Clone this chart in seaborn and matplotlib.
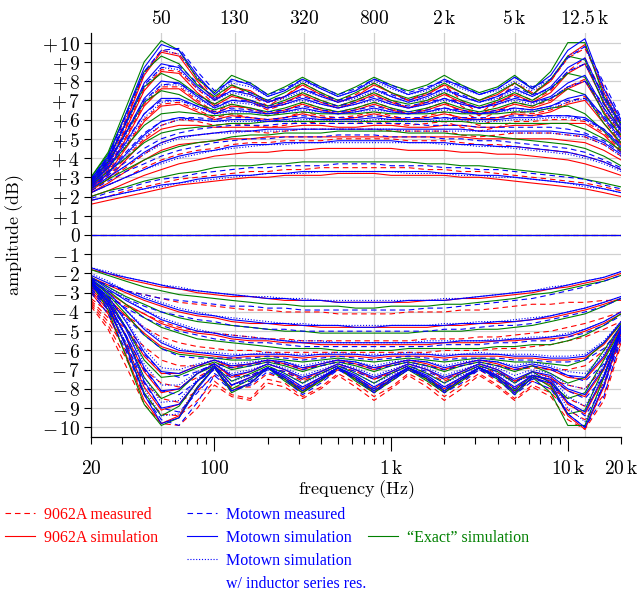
import matplotlib
matplotlib.use("Agg")
import matplotlib.pyplot as plt
import numpy as np
import pandas as pd
import seaborn as sns
from matplotlib.lines import Line2D
from matplotlib.ticker import FixedLocator, FixedFormatter, LogLocator, FuncFormatter, NullLocator

# ---------------------------------------------------------------------------
# Frequency grid (Hz) shared by every response curve
freq_hz = [20, 25, 31.5, 40, 50, 63, 80, 100, 125, 160, 200, 250, 315, 400, 500, 630,
           800, 1000, 1250, 1600, 2000, 2500, 3150, 4000, 5000, 6300, 8000, 10000, 12500,
           16000, 20000]

# Band centre frequencies (top axis) and axis tick labels
band_freqs = [50, 130, 320, 800, 2000, 5000, 12500]
band_labels = [r"$50$", r"$130$", r"$320$", r"$800$", r"$2\,\mathrm{k}$", r"$5\,\mathrm{k}$",
               r"$12.5\,\mathrm{k}$"]
x_ticks = [100, 1000, 10000]
x_tick_labels = [r"$100$", r"$1\,\mathrm{k}$", r"$10\,\mathrm{k}$"]
x_end_ticks = [20, 20000]
x_end_labels = [r"$20$", r"$20\,\mathrm{k}$"]
y_ticks = [-10, -9, -8, -7, -6, -5, -4, -3, -2, -1, 0, 1, 2, 3, 4, 5, 6, 7, 8, 9, 10]
y_tick_labels = [r"$-\,10$", r"$-\,9$", r"$-\,8$", r"$-\,7$", r"$-\,6$", r"$-\,5$",
                 r"$-\,4$", r"$-\,3$", r"$-\,2$", r"$-\,1$", r"$0$", r"$+\,1$", r"$+\,2$",
                 r"$+\,3$", r"$+\,4$", r"$+\,5$", r"$+\,6$", r"$+\,7$", r"$+\,8$",
                 r"$+\,9$", r"$+\,10$"]

# Flat response (all bands at 0 dB)
flat_freq = [20, 20000]
flat_db = [0.0, 0.0]

# ---------------------------------------------------------------------------
# Boost settings (dB), one row per setting, lowest to highest
meas_9062a_boost = [
    [1.8, 2.0, 2.3, 2.5, 2.7, 2.9, 3.0, 3.1, 3.2, 3.3, 3.3, 3.4, 3.4, 3.5, 3.5, 3.5, 3.5, 3.5, 3.5, 3.4, 3.4, 3.3, 3.3, 3.2, 3.1, 3.0, 2.9, 2.8, 2.7, 2.5, 2.3],
    [2.2, 2.6, 3.0, 3.5, 3.9, 4.2, 4.4, 4.5, 4.7, 4.8, 4.8, 4.9, 4.9, 4.9, 5.0, 5.0, 5.0, 5.0, 4.9, 4.9, 4.9, 4.8, 4.7, 4.7, 4.6, 4.5, 4.4, 4.3, 4.1, 3.8, 3.4],
    [2.3, 2.9, 3.5, 4.2, 4.8, 5.1, 5.2, 5.3, 5.4, 5.4, 5.3, 5.4, 5.5, 5.5, 5.5, 5.5, 5.5, 5.4, 5.4, 5.4, 5.4, 5.2, 5.1, 5.2, 5.3, 5.3, 5.3, 5.2, 5.1, 4.7, 4.1],
    [2.4, 3.1, 4.0, 5.0, 5.7, 6.0, 5.9, 5.7, 5.8, 5.7, 5.6, 5.7, 5.9, 5.8, 5.8, 5.8, 5.9, 5.8, 5.7, 5.8, 5.9, 5.6, 5.4, 5.6, 5.9, 5.9, 6.0, 6.0, 5.9, 5.3, 4.4],
    [2.5, 3.3, 4.6, 6.0, 6.8, 6.9, 6.5, 6.1, 6.3, 6.1, 5.9, 6.1, 6.4, 6.2, 6.1, 6.2, 6.4, 6.2, 6.0, 6.2, 6.4, 6.0, 5.7, 6.0, 6.4, 6.3, 6.5, 6.9, 7.2, 6.0, 4.8],
    [2.6, 3.5, 5.1, 6.8, 7.7, 7.7, 7.0, 6.4, 6.8, 6.5, 6.2, 6.4, 6.9, 6.6, 6.4, 6.6, 6.9, 6.6, 6.3, 6.6, 6.9, 6.4, 6.0, 6.4, 6.9, 6.7, 7.0, 7.7, 8.1, 6.6, 5.2],
    [2.7, 3.7, 5.6, 7.6, 8.6, 8.5, 7.6, 6.8, 7.3, 6.9, 6.5, 6.8, 7.4, 7.0, 6.7, 7.0, 7.4, 7.0, 6.6, 7.0, 7.4, 6.7, 6.2, 6.8, 7.4, 7.0, 7.5, 8.5, 9.2, 7.2, 5.5],
    [2.8, 3.9, 6.0, 8.4, 9.6, 9.4, 8.2, 7.1, 7.8, 7.3, 6.7, 7.2, 7.9, 7.4, 7.0, 7.3, 7.9, 7.4, 7.0, 7.4, 7.8, 7.0, 6.3, 7.0, 7.9, 7.4, 8.0, 9.2, 9.7, 7.7, 5.8],
]
sim_9062a_boost = [
    [1.6, 1.8, 2.0, 2.2, 2.4, 2.6, 2.7, 2.8, 2.9, 3.0, 3.0, 3.1, 3.1, 3.1, 3.2, 3.2, 3.2, 3.1, 3.1, 3.1, 3.1, 3.0, 3.0, 2.9, 2.8, 2.7, 2.6, 2.5, 2.4, 2.2, 2.0],
    [2.0, 2.3, 2.7, 3.1, 3.4, 3.7, 3.9, 4.1, 4.2, 4.3, 4.3, 4.4, 4.4, 4.5, 4.5, 4.5, 4.5, 4.5, 4.4, 4.4, 4.4, 4.3, 4.3, 4.2, 4.2, 4.1, 4.0, 3.9, 3.7, 3.4, 3.1],
    [2.2, 2.7, 3.3, 3.9, 4.4, 4.7, 4.8, 4.9, 5.0, 5.0, 5.1, 5.1, 5.1, 5.1, 5.1, 5.1, 5.1, 5.1, 5.1, 5.1, 5.1, 5.1, 5.0, 5.0, 5.0, 5.0, 5.0, 4.9, 4.8, 4.4, 3.9],
    [2.3, 2.9, 3.9, 4.9, 5.5, 5.7, 5.7, 5.6, 5.6, 5.6, 5.6, 5.6, 5.7, 5.7, 5.6, 5.6, 5.7, 5.7, 5.6, 5.6, 5.7, 5.7, 5.6, 5.6, 5.7, 5.7, 5.8, 5.8, 5.8, 5.2, 4.3],
    [2.4, 3.2, 4.5, 5.9, 6.7, 6.8, 6.4, 6.0, 6.2, 6.1, 6.0, 6.1, 6.3, 6.1, 6.0, 6.1, 6.3, 6.1, 6.0, 6.1, 6.3, 6.1, 6.0, 6.1, 6.3, 6.2, 6.4, 6.8, 7.0, 5.8, 4.7],
    [2.5, 3.4, 5.0, 6.7, 7.6, 7.6, 6.9, 6.3, 6.7, 6.6, 6.3, 6.5, 6.8, 6.5, 6.3, 6.5, 6.8, 6.5, 6.3, 6.5, 6.8, 6.5, 6.3, 6.5, 6.8, 6.6, 6.9, 7.6, 8.0, 6.4, 5.1],
    [2.6, 3.6, 5.5, 7.5, 8.5, 8.4, 7.4, 6.7, 7.2, 7.0, 6.6, 6.9, 7.3, 6.9, 6.6, 6.9, 7.3, 6.9, 6.6, 6.9, 7.3, 6.9, 6.6, 6.9, 7.3, 6.9, 7.4, 8.4, 8.9, 6.9, 5.4],
    [2.7, 3.8, 5.9, 8.3, 9.5, 9.3, 8.0, 7.0, 7.7, 7.5, 6.9, 7.2, 7.8, 7.3, 6.9, 7.2, 7.8, 7.4, 7.0, 7.3, 7.8, 7.4, 7.0, 7.3, 7.9, 7.3, 8.0, 9.3, 9.9, 7.4, 5.7],
]
meas_motown_boost = [
    [1.9, 2.2, 2.4, 2.7, 2.9, 3.0, 3.2, 3.3, 3.4, 3.5, 3.5, 3.6, 3.6, 3.6, 3.7, 3.7, 3.7, 3.6, 3.6, 3.6, 3.5, 3.5, 3.4, 3.4, 3.3, 3.2, 3.1, 3.0, 2.9, 2.6, 2.4],
    [2.3, 2.8, 3.3, 3.7, 4.1, 4.4, 4.6, 4.8, 4.9, 5.0, 5.0, 5.1, 5.1, 5.1, 5.2, 5.2, 5.2, 5.1, 5.1, 5.1, 5.0, 5.0, 4.9, 4.9, 4.8, 4.7, 4.6, 4.5, 4.3, 3.9, 3.5],
    [2.5, 3.1, 3.8, 4.5, 5.0, 5.3, 5.5, 5.6, 5.7, 5.7, 5.7, 5.8, 5.8, 5.8, 5.8, 5.8, 5.8, 5.8, 5.8, 5.7, 5.7, 5.7, 5.6, 5.6, 5.6, 5.6, 5.6, 5.5, 5.3, 4.9, 4.3],
    [2.6, 3.3, 4.3, 5.3, 5.9, 6.1, 6.1, 6.0, 6.1, 6.1, 6.0, 6.1, 6.2, 6.1, 6.1, 6.1, 6.2, 6.1, 6.1, 6.1, 6.1, 6.1, 6.1, 6.1, 6.2, 6.2, 6.2, 6.2, 6.0, 5.5, 4.7],
    [2.7, 3.6, 4.9, 6.3, 7.0, 7.0, 6.7, 6.4, 6.6, 6.5, 6.4, 6.5, 6.7, 6.5, 6.4, 6.5, 6.7, 6.5, 6.4, 6.5, 6.6, 6.5, 6.3, 6.5, 6.6, 6.5, 6.7, 7.0, 7.1, 6.2, 5.1],
    [2.8, 3.8, 5.4, 7.0, 7.8, 7.9, 7.3, 6.7, 7.0, 7.0, 6.7, 6.9, 7.2, 6.9, 6.7, 6.9, 7.2, 6.9, 6.7, 6.9, 7.1, 6.9, 6.6, 6.9, 7.2, 6.9, 7.1, 7.7, 8.0, 6.8, 5.5],
    [2.8, 4.0, 5.9, 7.8, 8.7, 8.8, 7.9, 7.1, 7.5, 7.4, 7.0, 7.2, 7.6, 7.3, 7.0, 7.2, 7.6, 7.3, 7.0, 7.3, 7.6, 7.3, 6.9, 7.2, 7.7, 7.3, 7.6, 8.5, 8.9, 7.3, 5.8],
    [2.9, 4.1, 6.2, 8.5, 9.6, 9.7, 8.5, 7.5, 8.0, 7.9, 7.3, 7.6, 8.1, 7.7, 7.3, 7.6, 8.1, 7.8, 7.4, 7.7, 8.0, 7.8, 7.3, 7.6, 8.2, 7.7, 8.1, 9.2, 9.8, 7.9, 6.1],
]
sim_motown_boost = [
    [1.8, 2.0, 2.2, 2.4, 2.6, 2.7, 2.9, 3.0, 3.1, 3.1, 3.2, 3.2, 3.3, 3.3, 3.3, 3.3, 3.3, 3.3, 3.3, 3.3, 3.2, 3.2, 3.1, 3.1, 3.0, 2.9, 2.8, 2.7, 2.6, 2.4, 2.2],
    [2.2, 2.6, 3.0, 3.4, 3.8, 4.1, 4.3, 4.4, 4.6, 4.7, 4.7, 4.8, 4.8, 4.8, 4.9, 4.9, 4.9, 4.9, 4.8, 4.8, 4.8, 4.7, 4.7, 4.6, 4.6, 4.5, 4.4, 4.3, 4.1, 3.8, 3.4],
    [2.4, 3.0, 3.6, 4.3, 4.8, 5.1, 5.2, 5.3, 5.4, 5.4, 5.5, 5.5, 5.5, 5.5, 5.5, 5.5, 5.5, 5.5, 5.5, 5.5, 5.5, 5.5, 5.4, 5.4, 5.4, 5.4, 5.4, 5.3, 5.2, 4.8, 4.2],
    [2.5, 3.2, 4.2, 5.2, 5.9, 6.1, 6.0, 5.9, 6.0, 6.0, 5.9, 6.0, 6.1, 6.0, 6.0, 6.0, 6.1, 6.0, 6.0, 6.0, 6.1, 6.0, 6.0, 6.0, 6.1, 6.1, 6.2, 6.2, 6.1, 5.5, 4.6],
    [2.6, 3.5, 4.8, 6.3, 7.1, 7.1, 6.7, 6.3, 6.5, 6.4, 6.3, 6.4, 6.6, 6.4, 6.3, 6.4, 6.6, 6.4, 6.3, 6.4, 6.6, 6.4, 6.3, 6.4, 6.6, 6.5, 6.7, 7.1, 7.3, 6.1, 5.0],
    [2.7, 3.7, 5.3, 7.1, 8.0, 7.9, 7.2, 6.6, 7.0, 6.9, 6.6, 6.8, 7.1, 6.8, 6.6, 6.8, 7.1, 6.8, 6.6, 6.8, 7.1, 6.8, 6.6, 6.8, 7.1, 6.9, 7.2, 7.9, 8.3, 6.6, 5.4],
    [2.8, 3.9, 5.8, 7.9, 8.9, 8.7, 7.7, 7.0, 7.5, 7.3, 6.9, 7.2, 7.6, 7.2, 6.9, 7.2, 7.6, 7.2, 6.9, 7.2, 7.6, 7.2, 6.9, 7.2, 7.6, 7.2, 7.7, 8.7, 9.2, 7.1, 5.7],
    [2.9, 4.1, 6.3, 8.7, 9.9, 9.6, 8.3, 7.3, 8.1, 7.8, 7.2, 7.5, 8.1, 7.6, 7.2, 7.5, 8.1, 7.7, 7.3, 7.6, 8.1, 7.7, 7.3, 7.6, 8.2, 7.6, 8.3, 9.6, 10.2, 7.6, 6.0],
]
sim_motown_ind_boost = [
    [1.8, 2.0, 2.2, 2.4, 2.5, 2.7, 2.8, 2.9, 3.0, 3.1, 3.2, 3.2, 3.2, 3.3, 3.3, 3.3, 3.3, 3.3, 3.2, 3.2, 3.2, 3.1, 3.1, 3.0, 3.0, 2.9, 2.8, 2.7, 2.5, 2.4, 2.2],
    [2.2, 2.6, 3.0, 3.4, 3.7, 4.0, 4.2, 4.4, 4.5, 4.6, 4.7, 4.7, 4.8, 4.8, 4.8, 4.8, 4.8, 4.8, 4.8, 4.8, 4.7, 4.7, 4.6, 4.6, 4.5, 4.4, 4.3, 4.2, 4.0, 3.7, 3.3],
    [2.4, 3.0, 3.6, 4.2, 4.7, 5.0, 5.2, 5.3, 5.3, 5.4, 5.4, 5.4, 5.5, 5.5, 5.5, 5.5, 5.5, 5.5, 5.4, 5.4, 5.4, 5.4, 5.4, 5.4, 5.3, 5.3, 5.3, 5.2, 5.1, 4.7, 4.1],
    [2.5, 3.2, 4.1, 5.1, 5.7, 6.0, 6.0, 5.9, 5.9, 5.9, 5.9, 5.9, 6.0, 6.0, 5.9, 5.9, 6.0, 6.0, 5.9, 5.9, 6.0, 6.0, 5.9, 5.9, 6.0, 6.0, 6.1, 6.1, 6.0, 5.4, 4.5],
    [2.6, 3.4, 4.7, 6.1, 6.9, 7.0, 6.6, 6.3, 6.4, 6.4, 6.3, 6.4, 6.5, 6.4, 6.3, 6.4, 6.5, 6.4, 6.3, 6.4, 6.5, 6.4, 6.3, 6.4, 6.5, 6.4, 6.6, 6.9, 7.1, 6.0, 4.9],
    [2.7, 3.6, 5.2, 6.9, 7.8, 7.8, 7.1, 6.6, 6.9, 6.8, 6.6, 6.8, 7.0, 6.8, 6.6, 6.8, 7.0, 6.8, 6.6, 6.8, 7.0, 6.8, 6.6, 6.8, 7.0, 6.8, 7.1, 7.7, 8.0, 6.5, 5.3],
    [2.8, 3.8, 5.7, 7.7, 8.7, 8.6, 7.6, 7.0, 7.4, 7.2, 6.9, 7.1, 7.5, 7.2, 6.9, 7.1, 7.5, 7.2, 6.9, 7.1, 7.5, 7.2, 6.9, 7.1, 7.5, 7.2, 7.6, 8.5, 8.9, 7.0, 5.6],
    [2.9, 4.0, 6.1, 8.4, 9.6, 9.4, 8.2, 7.3, 7.9, 7.7, 7.2, 7.5, 8.0, 7.6, 7.2, 7.5, 8.0, 7.6, 7.3, 7.5, 8.0, 7.6, 7.3, 7.5, 8.0, 7.5, 8.1, 9.3, 9.8, 7.5, 5.9],
]
sim_exact_boost = [
    [2.0, 2.3, 2.5, 2.8, 3.0, 3.2, 3.3, 3.5, 3.6, 3.6, 3.7, 3.7, 3.8, 3.8, 3.8, 3.8, 3.8, 3.8, 3.8, 3.7, 3.7, 3.6, 3.6, 3.5, 3.4, 3.3, 3.2, 3.1, 2.9, 2.7, 2.5],
    [2.4, 2.9, 3.4, 3.9, 4.3, 4.6, 4.8, 4.9, 5.1, 5.2, 5.2, 5.3, 5.3, 5.3, 5.4, 5.4, 5.4, 5.4, 5.3, 5.3, 5.3, 5.2, 5.2, 5.1, 5.0, 4.9, 4.8, 4.7, 4.5, 4.1, 3.6],
    [2.6, 3.3, 4.0, 4.8, 5.3, 5.5, 5.6, 5.7, 5.8, 5.8, 5.9, 5.9, 5.9, 5.9, 5.9, 5.9, 5.9, 5.9, 5.9, 5.9, 5.9, 5.9, 5.8, 5.8, 5.8, 5.8, 5.8, 5.8, 5.5, 5.0, 4.4],
    [2.7, 3.5, 4.6, 5.7, 6.3, 6.4, 6.3, 6.2, 6.3, 6.3, 6.2, 6.3, 6.4, 6.3, 6.3, 6.3, 6.4, 6.3, 6.3, 6.3, 6.4, 6.3, 6.3, 6.3, 6.4, 6.4, 6.6, 6.7, 6.3, 5.4, 4.5],
    [2.8, 3.8, 5.3, 6.9, 7.5, 7.3, 6.8, 6.5, 6.8, 6.6, 6.4, 6.6, 6.9, 6.6, 6.4, 6.6, 6.9, 6.6, 6.4, 6.6, 6.9, 6.6, 6.4, 6.6, 6.9, 6.7, 7.1, 7.6, 7.3, 5.8, 4.8],
    [2.9, 4.0, 5.8, 7.7, 8.4, 8.0, 7.3, 6.8, 7.3, 7.0, 6.7, 7.0, 7.4, 7.0, 6.7, 7.0, 7.4, 7.0, 6.8, 7.0, 7.4, 7.0, 6.7, 7.0, 7.4, 7.0, 7.6, 8.4, 8.2, 6.3, 5.2],
    [3.0, 4.2, 6.3, 8.5, 9.3, 8.9, 7.8, 7.2, 7.8, 7.4, 7.0, 7.4, 7.9, 7.4, 7.0, 7.4, 7.9, 7.4, 7.1, 7.4, 7.9, 7.4, 7.0, 7.4, 7.9, 7.3, 8.1, 9.3, 9.1, 6.8, 5.5],
    [3.0, 4.3, 6.6, 9.0, 10.1, 9.6, 8.1, 7.4, 8.3, 7.9, 7.3, 7.7, 8.2, 7.7, 7.3, 7.7, 8.2, 7.8, 7.5, 7.8, 8.3, 7.8, 7.4, 7.7, 8.3, 7.6, 8.5, 10.0, 10.0, 7.2, 5.8],
]

# ---------------------------------------------------------------------------
# Cut settings (dB), one row per setting, shallowest to deepest
meas_9062a_cut = [
    [-2.3, -2.6, -2.9, -3.1, -3.3, -3.5, -3.6, -3.7, -3.8, -3.9, -3.9, -4.0, -4.0, -4.0, -4.1, -4.1, -4.1, -4.1, -4.0, -4.0, -4.0, -3.9, -3.9, -3.8, -3.7, -3.6, -3.6, -3.5, -3.5, -3.4, -3.4],
    [-2.7, -3.2, -3.7, -4.1, -4.5, -4.8, -5.0, -5.1, -5.2, -5.3, -5.4, -5.4, -5.5, -5.5, -5.5, -5.5, -5.5, -5.5, -5.5, -5.4, -5.4, -5.4, -5.3, -5.3, -5.2, -5.1, -5.0, -4.8, -4.6, -4.3, -4.0],
    [-3.0, -3.6, -4.2, -4.8, -5.3, -5.6, -5.8, -5.9, -6.0, -6.0, -6.1, -6.1, -6.1, -6.1, -6.1, -6.1, -6.1, -6.1, -6.1, -6.1, -6.0, -6.0, -6.0, -5.9, -5.9, -5.8, -5.7, -5.5, -5.3, -4.9, -4.5],
    [-3.3, -4.0, -4.9, -5.8, -6.5, -6.8, -6.8, -6.7, -6.8, -6.7, -6.6, -6.7, -6.9, -6.8, -6.6, -6.7, -6.9, -6.8, -6.6, -6.8, -7.0, -6.8, -6.6, -6.8, -7.0, -6.9, -7.0, -7.0, -6.8, -6.0, -4.9],
    [-3.4, -4.3, -5.6, -7.0, -7.7, -7.9, -7.4, -6.9, -7.3, -7.3, -6.9, -7.1, -7.6, -7.2, -6.8, -7.1, -7.5, -7.2, -6.8, -7.2, -7.6, -7.2, -6.8, -7.2, -7.6, -7.3, -7.5, -7.8, -8.0, -6.9, -5.2],
    [-3.5, -4.5, -6.0, -7.7, -8.5, -8.7, -8.1, -7.3, -7.9, -7.9, -7.2, -7.5, -8.1, -7.6, -7.0, -7.5, -8.1, -7.6, -7.0, -7.5, -8.1, -7.6, -7.0, -7.6, -8.1, -7.6, -8.0, -8.5, -8.9, -7.7, -5.4],
    [-3.6, -4.7, -6.4, -8.3, -9.3, -9.4, -8.6, -7.6, -8.3, -8.5, -7.5, -7.7, -8.4, -7.9, -7.2, -7.7, -8.4, -7.9, -7.2, -7.7, -8.4, -7.8, -7.2, -7.8, -8.5, -7.8, -8.2, -9.1, -9.6, -8.3, -5.6],
    [-3.7, -4.9, -6.8, -8.8, -9.8, -9.9, -9.0, -7.8, -8.4, -8.6, -7.7, -7.9, -8.5, -8.0, -7.3, -7.9, -8.6, -8.0, -7.3, -7.9, -8.6, -8.0, -7.3, -7.9, -8.6, -7.9, -8.4, -9.6, -10.1, -8.6, -5.7],
]
sim_9062a_cut = [
    [-1.8, -2.0, -2.3, -2.5, -2.7, -2.8, -3.0, -3.1, -3.2, -3.2, -3.3, -3.4, -3.4, -3.4, -3.5, -3.5, -3.5, -3.5, -3.5, -3.4, -3.4, -3.3, -3.3, -3.2, -3.1, -3.0, -2.8, -2.7, -2.5, -2.3, -2.0],
    [-2.2, -2.6, -3.0, -3.4, -3.7, -4.0, -4.2, -4.3, -4.5, -4.6, -4.6, -4.7, -4.7, -4.8, -4.8, -4.8, -4.8, -4.8, -4.8, -4.8, -4.7, -4.7, -4.6, -4.6, -4.5, -4.4, -4.3, -4.1, -3.9, -3.6, -3.3],
    [-2.4, -3.0, -3.6, -4.1, -4.6, -4.9, -5.1, -5.2, -5.4, -5.5, -5.5, -5.6, -5.6, -5.7, -5.7, -5.7, -5.7, -5.7, -5.7, -5.7, -5.6, -5.6, -5.6, -5.5, -5.5, -5.4, -5.4, -5.3, -5.0, -4.6, -4.1],
    [-2.6, -3.3, -4.2, -5.1, -5.8, -6.1, -6.2, -6.3, -6.4, -6.3, -6.3, -6.3, -6.4, -6.3, -6.3, -6.3, -6.4, -6.3, -6.3, -6.3, -6.4, -6.3, -6.3, -6.3, -6.4, -6.4, -6.5, -6.5, -6.4, -5.7, -4.6],
    [-2.7, -3.5, -4.8, -6.3, -7.2, -7.2, -6.8, -6.5, -6.9, -6.7, -6.5, -6.7, -7.0, -6.7, -6.5, -6.7, -7.0, -6.7, -6.5, -6.7, -7.0, -6.7, -6.5, -6.7, -7.0, -6.8, -7.0, -7.4, -7.5, -6.4, -4.8],
    [-2.8, -3.7, -5.2, -7.1, -8.2, -8.0, -7.2, -6.7, -7.4, -7.1, -6.7, -7.0, -7.5, -7.1, -6.7, -7.0, -7.5, -7.1, -6.7, -7.0, -7.5, -7.1, -6.7, -7.0, -7.6, -7.1, -7.4, -8.1, -8.4, -7.0, -4.9],
    [-2.9, -3.9, -5.7, -7.9, -9.1, -8.8, -7.6, -6.8, -7.8, -7.4, -6.9, -7.4, -8.0, -7.4, -6.9, -7.4, -8.0, -7.4, -6.9, -7.4, -8.0, -7.4, -6.9, -7.3, -8.0, -7.3, -7.6, -8.8, -9.3, -7.4, -5.0],
    [-3.0, -4.1, -6.2, -8.6, -9.8, -9.4, -7.9, -6.9, -8.1, -7.7, -6.9, -7.5, -8.2, -7.5, -6.9, -7.5, -8.2, -7.5, -6.9, -7.5, -8.2, -7.5, -6.9, -7.4, -8.2, -7.4, -7.8, -9.4, -10.1, -7.9, -5.1],
]
meas_motown_cut = [
    [-2.3, -2.6, -2.9, -3.1, -3.3, -3.4, -3.5, -3.6, -3.7, -3.7, -3.8, -3.8, -3.9, -3.9, -3.9, -3.9, -3.9, -3.9, -3.9, -3.8, -3.8, -3.7, -3.6, -3.5, -3.4, -3.3, -3.1, -2.9, -2.7, -2.4, -2.1],
    [-2.4, -2.9, -3.3, -3.7, -4.0, -4.2, -4.4, -4.5, -4.7, -4.8, -4.9, -4.9, -5.0, -5.0, -5.0, -5.0, -5.0, -5.0, -5.0, -5.0, -4.9, -4.9, -4.8, -4.7, -4.7, -4.6, -4.4, -4.2, -4.0, -3.7, -3.3],
    [-2.6, -3.2, -3.8, -4.3, -4.7, -5.0, -5.2, -5.4, -5.5, -5.6, -5.6, -5.7, -5.8, -5.8, -5.8, -5.8, -5.8, -5.8, -5.8, -5.8, -5.7, -5.7, -5.7, -5.6, -5.6, -5.5, -5.5, -5.3, -5.1, -4.7, -4.2],
    [-2.7, -3.4, -4.3, -5.2, -5.9, -6.3, -6.4, -6.4, -6.4, -6.4, -6.3, -6.4, -6.5, -6.4, -6.3, -6.4, -6.5, -6.4, -6.3, -6.4, -6.5, -6.4, -6.4, -6.4, -6.5, -6.5, -6.6, -6.6, -6.5, -5.9, -4.8],
    [-2.8, -3.6, -4.8, -6.2, -7.1, -7.4, -7.1, -6.7, -6.9, -6.8, -6.6, -6.7, -7.0, -6.8, -6.6, -6.7, -7.0, -6.8, -6.6, -6.8, -7.0, -6.8, -6.6, -6.8, -7.0, -6.8, -7.0, -7.3, -7.6, -6.7, -5.0],
    [-2.8, -3.8, -5.2, -7.0, -8.1, -8.3, -7.6, -7.0, -7.4, -7.3, -6.9, -7.1, -7.5, -7.2, -6.8, -7.1, -7.5, -7.2, -6.8, -7.1, -7.5, -7.2, -6.8, -7.1, -7.6, -7.3, -7.5, -8.1, -8.5, -7.4, -5.2],
    [-2.9, -3.9, -5.6, -7.7, -9.0, -9.2, -8.2, -7.2, -7.8, -7.6, -7.0, -7.4, -8.0, -7.5, -7.0, -7.4, -8.0, -7.5, -7.0, -7.4, -8.0, -7.5, -7.0, -7.4, -8.0, -7.5, -7.7, -8.7, -9.4, -7.9, -5.3],
    [-3.0, -4.1, -6.0, -8.3, -9.6, -9.9, -8.7, -7.3, -8.1, -7.8, -7.1, -7.5, -8.3, -7.7, -7.0, -7.5, -8.2, -7.6, -7.0, -7.5, -8.2, -7.7, -7.0, -7.5, -8.3, -7.6, -8.0, -9.3, -10.0, -8.4, -5.4],
]
sim_motown_cut = [
    [-1.7, -2.0, -2.2, -2.4, -2.6, -2.8, -2.9, -3.0, -3.1, -3.2, -3.3, -3.3, -3.4, -3.4, -3.5, -3.5, -3.5, -3.5, -3.4, -3.4, -3.4, -3.3, -3.2, -3.1, -3.0, -2.9, -2.8, -2.6, -2.4, -2.2, -1.9],
    [-2.1, -2.5, -2.9, -3.3, -3.6, -3.9, -4.1, -4.2, -4.4, -4.5, -4.6, -4.6, -4.7, -4.7, -4.7, -4.8, -4.8, -4.7, -4.7, -4.7, -4.7, -4.6, -4.6, -4.5, -4.5, -4.4, -4.2, -4.0, -3.8, -3.5, -3.2],
    [-2.2, -2.8, -3.4, -3.9, -4.4, -4.7, -5.0, -5.1, -5.3, -5.4, -5.4, -5.5, -5.6, -5.6, -5.6, -5.6, -5.6, -5.6, -5.6, -5.6, -5.6, -5.5, -5.5, -5.5, -5.4, -5.4, -5.3, -5.2, -4.9, -4.5, -4.0],
    [-2.3, -3.0, -3.9, -4.9, -5.6, -6.0, -6.1, -6.2, -6.3, -6.2, -6.2, -6.2, -6.3, -6.2, -6.2, -6.2, -6.3, -6.2, -6.2, -6.2, -6.3, -6.2, -6.2, -6.2, -6.3, -6.3, -6.4, -6.4, -6.3, -5.6, -4.5],
    [-2.4, -3.2, -4.5, -6.1, -7.1, -7.2, -6.8, -6.5, -6.8, -6.7, -6.5, -6.6, -6.9, -6.7, -6.5, -6.6, -6.9, -6.7, -6.5, -6.6, -6.9, -6.7, -6.5, -6.6, -6.9, -6.7, -6.9, -7.3, -7.4, -6.3, -4.7],
    [-2.4, -3.4, -4.9, -6.9, -8.1, -8.0, -7.2, -6.7, -7.3, -7.1, -6.7, -7.0, -7.4, -7.1, -6.7, -7.0, -7.4, -7.1, -6.7, -7.0, -7.4, -7.1, -6.7, -7.0, -7.5, -7.1, -7.3, -8.0, -8.3, -6.9, -4.9],
    [-2.5, -3.5, -5.3, -7.6, -9.0, -8.8, -7.6, -6.8, -7.8, -7.4, -6.9, -7.3, -7.9, -7.4, -6.9, -7.3, -7.9, -7.4, -6.9, -7.3, -7.9, -7.4, -6.9, -7.3, -7.9, -7.3, -7.5, -8.7, -9.2, -7.3, -4.9],
    [-2.5, -3.7, -5.8, -8.3, -9.8, -9.5, -8.0, -6.9, -8.1, -7.7, -6.9, -7.4, -8.1, -7.5, -6.9, -7.4, -8.1, -7.5, -6.9, -7.4, -8.1, -7.5, -6.9, -7.4, -8.2, -7.4, -7.7, -9.3, -10.0, -7.8, -5.0],
]
sim_motown_ind_cut = [
    [-1.7, -1.9, -2.2, -2.4, -2.6, -2.7, -2.9, -3.0, -3.1, -3.2, -3.2, -3.3, -3.3, -3.4, -3.4, -3.4, -3.4, -3.4, -3.4, -3.4, -3.3, -3.3, -3.2, -3.1, -3.0, -2.9, -2.7, -2.6, -2.4, -2.2, -1.9],
    [-2.0, -2.4, -2.9, -3.2, -3.5, -3.8, -4.0, -4.2, -4.3, -4.4, -4.5, -4.6, -4.6, -4.7, -4.7, -4.7, -4.7, -4.7, -4.7, -4.7, -4.6, -4.6, -4.5, -4.5, -4.4, -4.3, -4.2, -4.0, -3.8, -3.5, -3.2],
    [-2.2, -2.7, -3.3, -3.9, -4.3, -4.6, -4.9, -5.1, -5.2, -5.3, -5.4, -5.5, -5.5, -5.5, -5.6, -5.6, -5.6, -5.6, -5.6, -5.5, -5.5, -5.5, -5.5, -5.4, -5.4, -5.3, -5.3, -5.1, -4.9, -4.5, -4.0],
    [-2.3, -3.0, -3.9, -4.8, -5.5, -5.9, -6.1, -6.1, -6.2, -6.2, -6.1, -6.2, -6.2, -6.2, -6.1, -6.2, -6.2, -6.2, -6.1, -6.2, -6.2, -6.2, -6.1, -6.2, -6.2, -6.2, -6.3, -6.3, -6.2, -5.5, -4.5],
    [-2.4, -3.2, -4.4, -5.9, -6.9, -7.0, -6.7, -6.5, -6.7, -6.6, -6.5, -6.6, -6.8, -6.6, -6.5, -6.6, -6.8, -6.6, -6.5, -6.6, -6.8, -6.6, -6.5, -6.6, -6.8, -6.6, -6.8, -7.1, -7.2, -6.2, -4.7],
    [-2.4, -3.3, -4.8, -6.7, -7.8, -7.8, -7.1, -6.7, -7.2, -7.0, -6.7, -6.9, -7.3, -7.0, -6.7, -6.9, -7.3, -7.0, -6.7, -6.9, -7.3, -7.0, -6.7, -6.9, -7.3, -7.0, -7.2, -7.8, -8.0, -6.8, -4.9],
    [-2.5, -3.5, -5.2, -7.4, -8.7, -8.6, -7.5, -6.8, -7.6, -7.3, -6.9, -7.2, -7.7, -7.3, -6.9, -7.2, -7.7, -7.3, -6.9, -7.2, -7.7, -7.3, -6.9, -7.2, -7.7, -7.2, -7.4, -8.4, -8.9, -7.2, -4.9],
    [-2.5, -3.6, -5.6, -8.0, -9.4, -9.3, -7.9, -6.9, -7.8, -7.5, -6.9, -7.3, -7.9, -7.4, -6.9, -7.3, -7.9, -7.4, -6.9, -7.3, -7.9, -7.4, -6.9, -7.3, -8.0, -7.3, -7.6, -9.0, -9.7, -7.7, -5.0],
]
sim_exact_cut = [
    [-1.8, -2.1, -2.4, -2.7, -2.9, -3.1, -3.2, -3.3, -3.4, -3.5, -3.6, -3.6, -3.7, -3.7, -3.7, -3.8, -3.8, -3.7, -3.7, -3.7, -3.6, -3.6, -3.5, -3.4, -3.3, -3.1, -3.0, -2.8, -2.6, -2.4, -2.1],
    [-2.2, -2.7, -3.2, -3.6, -4.0, -4.3, -4.5, -4.6, -4.7, -4.8, -4.9, -5.0, -5.0, -5.1, -5.1, -5.1, -5.1, -5.1, -5.1, -5.0, -5.0, -5.0, -4.9, -4.9, -4.8, -4.7, -4.5, -4.3, -4.1, -3.7, -3.3],
    [-2.3, -2.9, -3.6, -4.3, -4.8, -5.1, -5.4, -5.5, -5.6, -5.7, -5.8, -5.9, -5.9, -5.9, -6.0, -6.0, -6.0, -6.0, -5.9, -5.9, -5.9, -5.9, -5.9, -5.8, -5.8, -5.7, -5.7, -5.5, -5.2, -4.7, -4.1],
    [-2.3, -3.1, -4.1, -5.2, -5.9, -6.2, -6.3, -6.4, -6.5, -6.5, -6.4, -6.5, -6.6, -6.5, -6.4, -6.5, -6.6, -6.5, -6.4, -6.5, -6.6, -6.5, -6.4, -6.5, -6.6, -6.6, -6.7, -6.8, -6.5, -5.6, -4.6],
    [-2.4, -3.3, -4.8, -6.5, -7.4, -7.3, -6.9, -6.6, -7.0, -6.8, -6.6, -6.8, -7.1, -6.8, -6.6, -6.8, -7.1, -6.8, -6.6, -6.8, -7.1, -6.8, -6.6, -6.8, -7.1, -6.8, -7.2, -7.7, -7.4, -6.0, -4.7],
    [-2.4, -3.5, -5.3, -7.4, -8.5, -8.1, -7.2, -6.8, -7.6, -7.2, -6.8, -7.2, -7.7, -7.2, -6.8, -7.2, -7.7, -7.2, -6.8, -7.2, -7.7, -7.2, -6.8, -7.1, -7.7, -7.1, -7.7, -8.5, -8.2, -6.5, -4.9],
    [-2.4, -3.7, -5.8, -8.2, -9.4, -8.9, -7.6, -6.9, -8.0, -7.5, -6.9, -7.5, -8.1, -7.5, -6.9, -7.5, -8.1, -7.5, -6.9, -7.5, -8.1, -7.5, -6.9, -7.4, -8.1, -7.3, -7.9, -9.3, -9.1, -6.9, -4.9],
    [-2.5, -3.9, -6.3, -8.8, -9.9, -9.5, -7.9, -6.9, -8.2, -7.7, -6.9, -7.6, -8.2, -7.6, -6.9, -7.6, -8.2, -7.6, -7.0, -7.6, -8.2, -7.6, -6.9, -7.5, -8.3, -7.4, -8.2, -9.9, -9.9, -7.4, -5.0],
]

# ---------------------------------------------------------------------------
# Series styling (draw order: later entries on top)
series_keys = ["9062A measured", "9062A simulation", "Exact simulation",
               "Motown simulation", "Motown simulation (inductor res.)", "Motown measured"]
series_data = {
    "9062A measured": (meas_9062a_boost, meas_9062a_cut),
    "9062A simulation": (sim_9062a_boost, sim_9062a_cut),
    "Exact simulation": (sim_exact_boost, sim_exact_cut),
    "Motown simulation": (sim_motown_boost, sim_motown_cut),
    "Motown simulation (inductor res.)": (sim_motown_ind_boost, sim_motown_ind_cut),
    "Motown measured": (meas_motown_boost, meas_motown_cut),
}
RED, BLUE, GREEN = "#ff0000", "#0000ff", "#008000"
palette = {
    "9062A measured": RED,
    "9062A simulation": RED,
    "Exact simulation": GREEN,
    "Motown simulation": BLUE,
    "Motown simulation (inductor res.)": BLUE,
    "Motown measured": BLUE,
}
dash_styles = {
    "9062A measured": (5, 3.5),
    "9062A simulation": "",
    "Exact simulation": "",
    "Motown simulation": "",
    "Motown simulation (inductor res.)": (1, 1.6),
    "Motown measured": (5, 3.5),
}

rows = []
for key in series_keys:
    boost, cut = series_data[key]
    for side, block in (("boost", boost), ("cut", cut)):
        for k, vals in enumerate(block):
            if len(vals) != len(freq_hz):
                raise ValueError(f"{key} {side} row {k}: {len(vals)} values")
            for f, v in zip(freq_hz, vals):
                rows.append((f, v, key, f"{key}|{side}|{k}"))
    for f, v in zip(flat_freq, flat_db):
        rows.append((f, v, key, f"{key}|flat"))
df = pd.DataFrame(rows, columns=["freq", "db", "series", "curve"])

# ---------------------------------------------------------------------------
plt.rcParams["mathtext.fontset"] = "cm"
fig = plt.figure(figsize=(6.38, 5.92), dpi=100)
ax = fig.add_axes([91 / 638, 1 - 437 / 592, 530 / 638, 404 / 592])
ax.set_xscale("log")

sns.lineplot(data=df, x="freq", y="db", hue="series", style="series", units="curve",
             estimator=None, sort=False, hue_order=series_keys, style_order=series_keys,
             palette=palette, dashes=dash_styles, linewidth=0.8, legend=False, ax=ax)

ax.set_xlim(20, 20000)
ax.set_ylim(-10.5, 10.5)

TICK_FS = 14

# Bottom axis: decade ticks plus labelled end ticks at 20 Hz and 20 kHz
end_map = {int(f): lab for f, lab in zip(x_end_ticks, x_end_labels)}
ax.xaxis.set_major_locator(FixedLocator(x_ticks))
ax.xaxis.set_major_formatter(FixedFormatter(x_tick_labels))
ax.xaxis.set_minor_locator(LogLocator(base=10, subs=np.arange(2, 10), numticks=100))
ax.xaxis.set_minor_formatter(FuncFormatter(lambda v, p: end_map.get(int(round(v)), "")))
ax.tick_params(axis="x", which="major", direction="out", length=10, width=0.8,
               pad=5.5, labelsize=TICK_FS)
ax.tick_params(axis="x", which="minor", direction="out", length=5, width=0.8,
               pad=10.5, labelsize=TICK_FS)

ax.set_yticks(y_ticks)
ax.set_yticklabels(y_tick_labels)
ax.tick_params(axis="y", which="major", direction="out", length=5, width=0.8,
               pad=2.5, labelsize=TICK_FS)

ax.grid(axis="y", color="#d0d0d0", linewidth=0.9)
ax.grid(axis="x", visible=False, which="both")
for side in ("top", "right"):
    ax.spines[side].set_visible(False)
for side in ("left", "bottom"):
    ax.spines[side].set_linewidth(0.9)

ax.set_xlabel(r"$\mathrm{frequency\ (Hz)}$", fontsize=13)
ax.set_ylabel(r"$\mathrm{amplitude\ (dB)}$", fontsize=13)
ax.xaxis.set_label_coords(0.5, -0.103)
ax.yaxis.set_label_coords(-0.123, 0.5)

# Top axis: band centre frequencies with vertical grid lines
top = ax.twiny()
top.set_xscale("log")
top.set_xlim(ax.get_xlim())
top.xaxis.set_major_locator(FixedLocator(band_freqs))
top.xaxis.set_major_formatter(FixedFormatter(band_labels))
top.xaxis.set_minor_locator(NullLocator())
top.tick_params(axis="x", which="major", length=0, pad=3.5, labelsize=TICK_FS)
top.grid(axis="x", color="#d0d0d0", linewidth=0.9)
for s in top.spines.values():
    s.set_visible(False)
ax.set_zorder(top.get_zorder() + 1)
ax.patch.set_visible(False)

# Legend in three columns below the plot
def handle(key):
    d = dash_styles[key]
    h = Line2D([], [], color=palette[key], linewidth=0.8)
    if d:
        h.set_dashes(d)
    return h

legend_kw = dict(loc="upper left", frameon=False, borderpad=0, borderaxespad=0,
                 handlelength=1.85, handletextpad=0.6, labelspacing=0.43,
                 prop={"family": "Liberation Serif", "size": 11.5})
fig.legend([handle("9062A measured"), handle("9062A simulation")],
           ["9062A measured", "9062A simulation"],
           bbox_to_anchor=(5 / 638, 1 - 507 / 592), labelcolor=[RED, RED], **legend_kw)
fig.legend([handle("Motown measured"), handle("Motown simulation"),
            handle("Motown simulation (inductor res.)"), Line2D([], [], color="none")],
           ["Motown measured", "Motown simulation", "Motown simulation",
            "w/ inductor series res."],
           bbox_to_anchor=(187 / 638, 1 - 507 / 592), labelcolor=[BLUE] * 4, **legend_kw)
fig.legend([handle("Exact simulation")], ["\u201cExact\u201d simulation"],
           bbox_to_anchor=(368 / 638, 1 - 530 / 592), labelcolor=[GREEN], **legend_kw)

fig.savefig("out.png", dpi=100)
